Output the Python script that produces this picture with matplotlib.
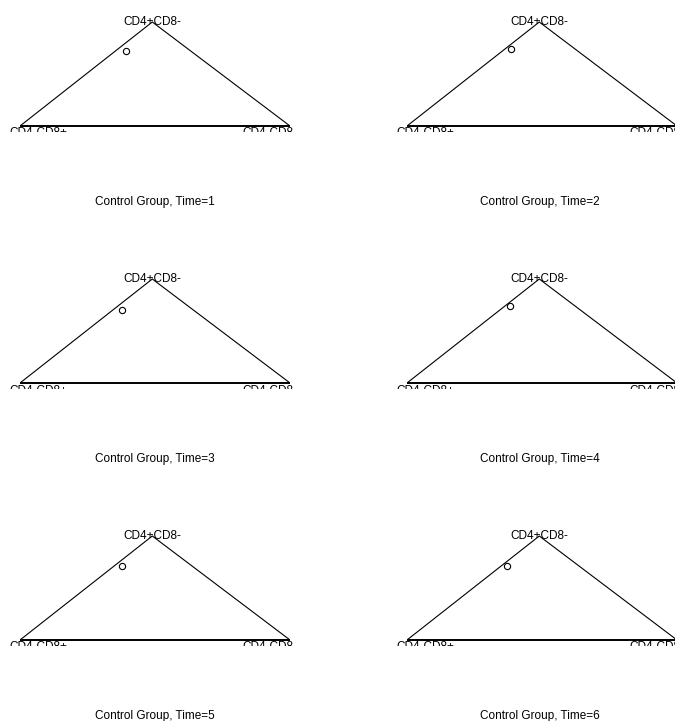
import matplotlib
matplotlib.use("Agg")
import matplotlib.pyplot as plt
from matplotlib.transforms import Bbox, TransformedBbox

plt.rcParams['font.family'] = ['Liberation Sans', 'DejaVu Sans']

# three-part compositions per time point: (CD4+CD8-, CD4-CD8+, CD4-CD8-)
times = [1, 2, 3, 4, 5, 6]
cd4p_cd8m = [0.721, 0.740, 0.702, 0.740, 0.712, 0.712]
cd4m_cd8p = [0.239, 0.237, 0.263, 0.241, 0.258, 0.267]
cd4m_cd8m = [0.040, 0.023, 0.035, 0.019, 0.030, 0.021]
vertex_labels = ["CD4+CD8-", "CD4-CD8+", "CD4-CD8-"]
group = "Control Group"

W, H = 675, 721
fig = plt.figure(figsize=(W / 100, H / 100), dpi=100)

# triangle vertices in panel data coords: apex, bottom-left, bottom-right
apex = (0.49, 1.0)
bl = (0.0, 0.0)
br = (1.0, 0.0)

tri_w, tri_h = 270, 104
pad_bot, pad_top = 6, 16

for i, t in enumerate(times):
    r, c = divmod(i, 2)
    x0 = 20 + 387 * c
    base = 126 + 257 * r
    y_bot = 1 - (base + pad_bot) / H
    ax = fig.add_axes([x0 / W, y_bot,
                       tri_w / W, (tri_h + pad_bot + pad_top) / H])
    ax.set_xlim(0, 1)
    ax.set_ylim(-pad_bot / tri_h, 1 + pad_top / tri_h)
    ax.axis("off")

    ax.plot([bl[0], apex[0], br[0]], [bl[1], apex[1], br[1]],
            color="black", lw=0.8)
    ax.plot([bl[0], br[0]], [bl[1], br[1]], color="black", lw=1.4)

    # barycentric -> cartesian
    a, b, cc = cd4p_cd8m[i], cd4m_cd8p[i], cd4m_cd8m[i]
    px = a * apex[0] + b * bl[0] + cc * br[0]
    py = a * apex[1] + b * bl[1] + cc * br[1]
    ax.plot(px, py, marker="o", ms=4.5, mfc="none", mec="black", mew=0.8)

    ax.text(apex[0], apex[1], vertex_labels[0], ha="center",
            va="center", fontsize=8.5)

    # corner labels sit under the base and get cut by the panel's bottom edge
    clip = TransformedBbox(Bbox([[0, y_bot], [1, 1]]), fig.transFigure)
    for lab, vx, dx in [(vertex_labels[1], bl[0], 18), (vertex_labels[2], br[0], -20)]:
        tx = ax.text(vx + dx / tri_w, -1.5 / tri_h, lab, ha="center", va="top",
                     fontsize=8.5)
        tx.set_clip_box(clip)
        tx.set_clip_on(True)

    fig.text((155 + 385 * c) / W, 1 - (202 + 257 * r) / H,
             f"{group}, Time={t}", ha="center", va="center", fontsize=8.5)

fig.savefig("out.png", dpi=100)
